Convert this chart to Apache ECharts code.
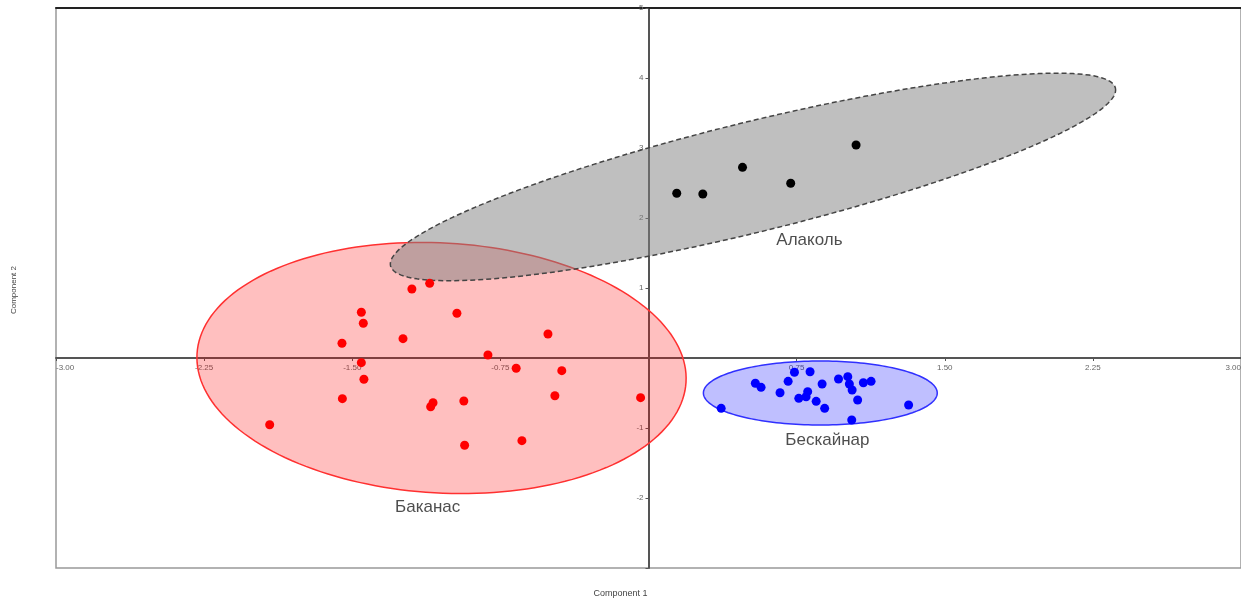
<!DOCTYPE html>
<html><head><meta charset="utf-8">
<script src="https://cdn.jsdelivr.net/npm/echarts@6/dist/echarts.min.js"></script>
<style>html,body{margin:0;padding:0;background:#fff}#c{width:1241px;height:605px}</style>
</head><body><div id="c"></div>
<script>
const groupNames = ['Баканас', 'Бескайнар', 'Алаколь'];
const alakol = [[0.143,2.353],[0.275,2.343],[0.476,2.724],[0.720,2.496],[1.051,3.043]];
const beskainar = [[0.739,-0.204],[0.818,-0.196],[0.541,-0.361],[0.570,-0.419],[0.707,-0.333],[0.666,-0.496],
  [0.879,-0.371],[0.962,-0.300],[1.009,-0.267],[1.017,-0.371],[1.031,-0.457],[1.088,-0.353],[1.127,-0.333],
  [0.806,-0.481],[0.761,-0.576],[0.798,-0.553],[0.849,-0.619],[0.892,-0.719],[1.059,-0.600],[1.029,-0.886],
  [1.317,-0.671],[0.368,-0.719]];
const bakanas = [[-1.108,1.067],[-1.198,0.986],[-1.454,0.653],[-1.444,0.496],[-1.243,0.276],[-1.552,0.210],
  [-1.454,-0.067],[-1.441,-0.304],[-1.550,-0.581],[-1.091,-0.639],[-1.103,-0.696],[-1.918,-0.953],
  [-0.970,0.639],[-0.509,0.343],[-0.813,0.043],[-0.670,-0.147],[-0.439,-0.181],[-0.474,-0.539],
  [-0.935,-0.614],[-0.040,-0.567],[-0.641,-1.181],[-0.931,-1.247]];
// ellipses (Баканас, Бескайнар, Алаколь): centre and two conjugate semi-axis vectors, data units
const ellipseCenters = [[-1.048,-0.143],[0.870,-0.500],[0.529,2.586]];
const ellipseAxisU = [[1.238,-0.201],[0.592,0],[1.835,1.271]];
const ellipseAxisV = [[-0.036,-1.783],[0,0.457],[0.0663,-0.763]];
const groupLabelPos = [[-1.118,-2.129],[0.906,-1.171],[0.815,1.686]];
const xTickInterval = 0.75;
const yTickInterval = 1;

const ellipseStyles = [
  {fill:'rgba(255,0,0,0.25)', stroke:'#ff3030', lineWidth:1.5},
  {fill:'rgba(0,0,255,0.25)', stroke:'#3030ff', lineWidth:1.5},
  {fill:'rgba(128,128,128,0.5)', stroke:'#444', lineWidth:1.5, lineDash:[5,3]}
];

// layout: grid box and the offsets that bring the axes to the origin
const G = {left:56, right:0, top:8, bottom:37, width:1241, height:605};
const plotW = G.width - G.left - G.right, plotH = G.height - G.top - G.bottom;
const yAxisOffset = -plotW * (0 - (-3)) / 6;   // x=0 position
const xAxisOffset = -plotH * (0 - (-3)) / 8;   // y=0 position

const chart = echarts.init(document.getElementById('c'), null, {renderer:'canvas'});
const option = {
  animation:false,
  backgroundColor:'#fff',
  grid:{left:G.left, right:G.right, top:G.top, bottom:G.bottom, outerBoundsMode:'none', containLabel:false,
    show:true, borderColor:'#999', borderWidth:1.5, backgroundColor:'transparent'},
  xAxis:[{
    type:'value', min:-3, max:3, interval:xTickInterval, position:'bottom', offset:xAxisOffset,
    axisLine:{onZero:false, lineStyle:{color:'#555', width:2}},
    axisTick:{show:true, length:3, lineStyle:{color:'#555'}},
    axisLabel:{color:'#666', fontSize:8, fontFamily:'Arial', margin:6, hideOverlap:false,
      alignMinLabel:'left', alignMaxLabel:'right',
      formatter:v => Math.abs(v) < 1e-9 ? '' : v.toFixed(2)},
    splitLine:{show:false}
  },{
    type:'value', min:-3, max:3, position:'top',
    axisLine:{onZero:false, lineStyle:{color:'#222', width:2}},
    axisTick:{show:false}, axisLabel:{show:false}, splitLine:{show:false}
  }],
  yAxis:{
    type:'value', min:-3, max:5, interval:yTickInterval, position:'left', offset:yAxisOffset,
    axisLine:{onZero:false, lineStyle:{color:'#555', width:2}},
    axisTick:{show:true, length:3, lineStyle:{color:'#555'}},
    axisLabel:{color:'#666', fontSize:8, fontFamily:'Arial', margin:5, hideOverlap:false,
      formatter:v => (v === 0 || v === -3) ? '' : String(v)},
    splitLine:{show:false}
  },
  graphic:[
    {type:'text', left:'center', top:589, style:{text:'Component 1', fill:'#444', font:'9px Arial'}},
    {type:'text', x:14, y:290, rotation:Math.PI/2, style:{text:'Component 2', fill:'#444', font:'8px Arial', align:'center', verticalAlign:'middle'}}
  ],
  series:[
    {
      type:'custom', z:1,
      data:ellipseCenters.map(c => c.slice()),
      renderItem:(params, api) => {
        const i = params.dataIndex;
        const c = ellipseCenters[i], u = ellipseAxisU[i], v = ellipseAxisV[i];
        const pts = [];
        for (let k = 0; k <= 180; k++) {
          const t = k / 180 * 2 * Math.PI;
          pts.push(api.coord([c[0] + u[0]*Math.cos(t) + v[0]*Math.sin(t),
                              c[1] + u[1]*Math.cos(t) + v[1]*Math.sin(t)]));
        }
        return {type:'polygon', shape:{points:pts}, style:ellipseStyles[i]};
      }
    },
    {type:'scatter', z:3, data:bakanas, symbolSize:9, itemStyle:{color:'#ff0000', opacity:1}},
    {type:'scatter', z:3, data:beskainar, symbolSize:9, itemStyle:{color:'#0000ff', opacity:1}},
    {type:'scatter', z:3, data:alakol, symbolSize:9, itemStyle:{color:'#000000', opacity:1}},
    {type:'scatter', z:4, symbolSize:1, itemStyle:{color:'rgba(0,0,0,0)'},
      data:groupLabelPos.map((p, i) => ({value:p, name:groupNames[i]})),
      label:{show:true, position:'inside', formatter:'{b}', color:'#222', fontSize:17, fontFamily:'Arial'}}
  ]
};
chart.setOption(option);
</script></body></html>
